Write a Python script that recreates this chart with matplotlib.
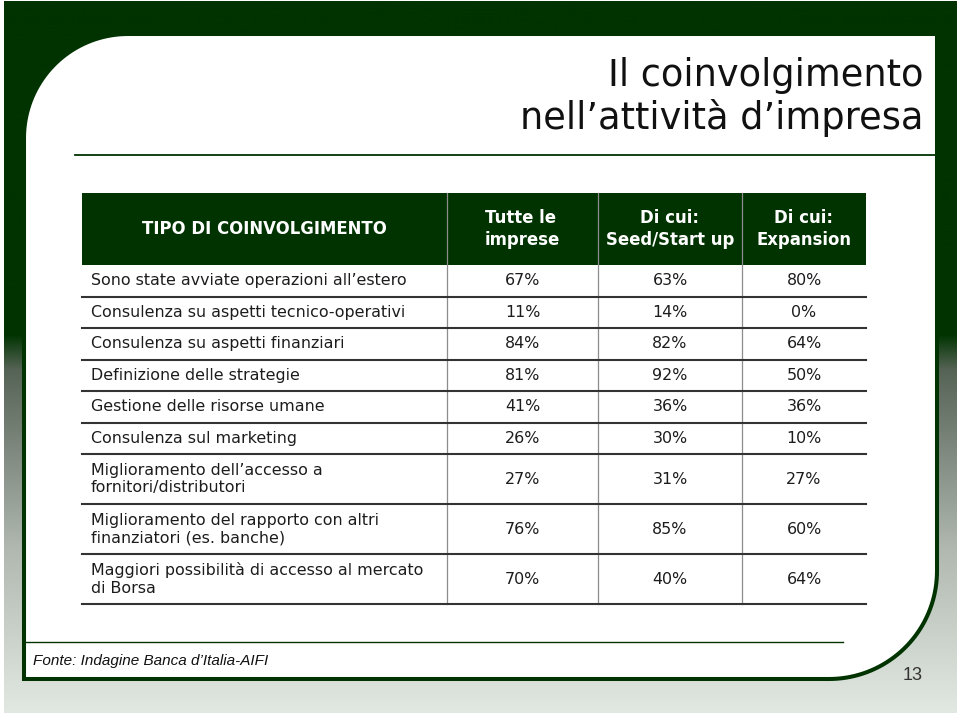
import numpy as np
import matplotlib.pyplot as plt
from matplotlib.patches import Polygon, Rectangle

# ---- data ----
title_lines = ["Il coinvolgimento", "nell\u2019attività d\u2019impresa"]
col_headers = ["TIPO DI COINVOLGIMENTO", "Tutte le\nimprese",
               "Di cui:\nSeed/Start up", "Di cui:\nExpansion"]
row_labels = [
    "Sono state avviate operazioni all\u2019estero",
    "Consulenza su aspetti tecnico-operativi",
    "Consulenza su aspetti finanziari",
    "Definizione delle strategie",
    "Gestione delle risorse umane",
    "Consulenza sul marketing",
    "Miglioramento dell\u2019accesso a\nfornitori/distributori",
    "Miglioramento del rapporto con altri\nfinanziatori (es. banche)",
    "Maggiori possibilità di accesso al mercato\ndi Borsa",
]
tutte_le_imprese = [67, 11, 84, 81, 41, 26, 27, 76, 70]
seed_start_up = [63, 14, 82, 92, 36, 30, 31, 85, 40]
expansion = [80, 0, 64, 50, 36, 10, 27, 60, 64]
source_note = "Fonte: Indagine Banca d\u2019Italia-AIFI"
page_no = "13"

GREEN = '#003300'
TXT = '#1c1c1c'

fig = plt.figure(figsize=(9.6, 7.16), dpi=100)
ax = fig.add_axes([0, 0, 1, 1])
ax.set_xlim(0, 960)
ax.set_ylim(716, 0)
ax.axis('off')

# background gradient (dark green on top, pale grey-green at the bottom)
stop_y = [0, 335, 370, 450, 550, 716]
stop_c = np.array([[0, 51, 0], [0, 51, 0], [85, 99, 85], [126, 136, 126],
                   [176, 184, 176], [226, 233, 226]]) / 255.0
yy = np.arange(716)
grad = np.stack([np.interp(yy, stop_y, stop_c[:, k]) for k in range(3)], axis=1)
ax.imshow(grad[:, None, :], extent=[4, 957, 713, 1], aspect='auto', zorder=0)

# white panel with rounded corners
left, top, right, bottom = 24, 34, 937, 679
r1, r2 = 104, 108
a1 = np.linspace(np.pi, 1.5 * np.pi, 40)
a2 = np.linspace(0, 0.5 * np.pi, 40)
pts = [(left + r1 + r1 * np.cos(a), top + r1 + r1 * np.sin(a)) for a in a1]
pts += [(right, top)]
pts += [(right - r2 + r2 * np.cos(a), bottom - r2 + r2 * np.sin(a)) for a in a2]
pts += [(left, bottom)]
ax.add_patch(Polygon(pts, closed=True, facecolor='white', edgecolor=GREEN,
                     lw=2.9, zorder=1))

# title
ax.plot([75, 935], [155, 155], color=GREEN, lw=1.3, zorder=2)
for i, line in enumerate(title_lines):
    ax.text(923, 75 + i * 43, line, ha='right', va='center', fontsize=26.5,
            color='#111111', zorder=3)

# table
col_x = [82, 447, 598, 742, 866]
head_top, head_bot = 193, 265
ax.add_patch(Rectangle((col_x[0], head_top), col_x[-1] - col_x[0],
                       head_bot - head_top, facecolor=GREEN, edgecolor='none',
                       zorder=2))
ax.text((col_x[0] + col_x[1]) / 2, 229, col_headers[0], ha='center',
        va='center', fontsize=11.9, fontweight='bold', color='white', zorder=3)
for j in range(1, 4):
    ax.text((col_x[j] + col_x[j + 1]) / 2, 229, col_headers[j], ha='center',
            va='center', fontsize=11.9, fontweight='bold', color='white',
            multialignment='left' if j == 1 else 'center', linespacing=1.25,
            zorder=3)

# row boundaries from the number of text lines
heights = [31.5 + 18.5 * (lbl.count('\n')) for lbl in row_labels]
bounds = head_bot + np.concatenate([[0], np.cumsum(heights)])

for j in range(1, 4):
    ax.plot([col_x[j], col_x[j]], [head_top, bounds[-1]], color='#8c8c8c',
            lw=0.9, zorder=3)

cols = [tutte_le_imprese, seed_start_up, expansion]
for i, lbl in enumerate(row_labels):
    yc = (bounds[i] + bounds[i + 1]) / 2
    ax.text(91, yc, lbl, ha='left', va='center', fontsize=11.4, color=TXT,
            linespacing=1.2, zorder=3)
    for j, vals in enumerate(cols):
        ax.text((col_x[j + 1] + col_x[j + 2]) / 2, yc, f"{vals[i]}%",
                ha='center', va='center', fontsize=11.4, color=TXT, zorder=3)
    ax.plot([col_x[0], col_x[-1]], [bounds[i + 1], bounds[i + 1]],
            color='#333333', lw=1.5, zorder=4)

# footer
ax.plot([24, 843], [642, 642], color=GREEN, lw=1.0, zorder=2)
ax.text(33, 661, source_note, ha='left', va='center', fontsize=11.0,
        style='italic', family='Liberation Sans', color='#111111', zorder=3)
ax.text(913, 676, page_no, ha='center', va='center', fontsize=13,
        family='Liberation Sans', color='#333333', zorder=3)

fig.savefig('out.png', dpi=100, facecolor='white')
